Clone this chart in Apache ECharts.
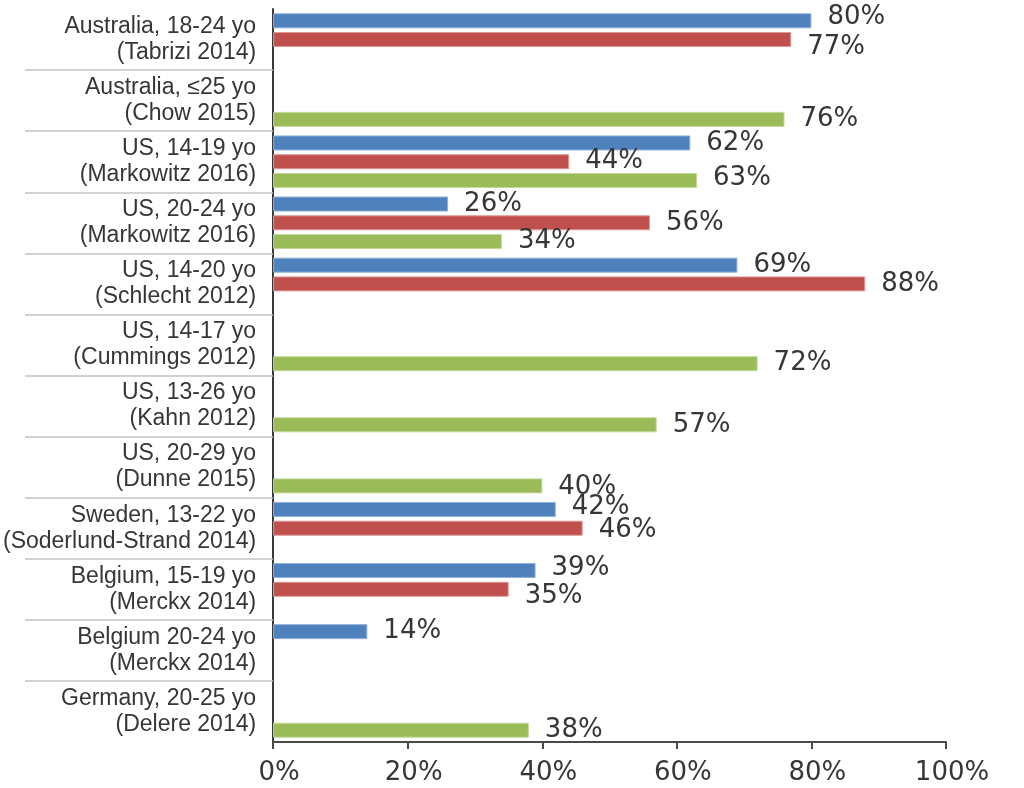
<!DOCTYPE html>
<html>
<head>
<meta charset="utf-8">
<script src="https://cdn.jsdelivr.net/npm/echarts@6/dist/echarts.min.js"></script>
<style>
html,body{margin:0;padding:0;background:#fff;}
#chart{width:1024px;height:788px;}
</style>
</head>
<body>
<div id="chart"></div>
<script>
const categories = [
  "Australia, 18-24 yo\n(Tabrizi 2014)",
  "Australia, ≤25 yo\n(Chow 2015)",
  "US, 14-19 yo\n(Markowitz 2016)",
  "US, 20-24 yo\n(Markowitz 2016)",
  "US, 14-20 yo\n(Schlecht 2012)",
  "US, 14-17 yo\n(Cummings 2012)",
  "US, 13-26 yo\n(Kahn 2012)",
  "US, 20-29 yo\n(Dunne 2015)",
  "Sweden, 13-22 yo\n(Soderlund-Strand 2014)",
  "Belgium, 15-19 yo\n(Merckx 2014)",
  "Belgium 20-24 yo\n(Merckx 2014)",
  "Germany, 20-25 yo\n(Delere 2014)"
];
const blueValues  = [80, null, 62, 26, 69, null, null, null, 42, 39, 14, null];
const redValues   = [77, null, 44, 56, 88, null, null, null, 46, 35, null, null];
const greenValues = [null, 76, 63, 34, null, 72, 57, 40, null, null, null, 38];
const xTicks = [0, 20, 40, 60, 80, 100];

const seriesNames = ["Series 1", "Series 2", "Series 3"];
const seriesColors = ["#4F81BD", "#C0504D", "#9BBB59"];
const seriesBorders = ["#8eb0da", "#de9896", "#c3d89a"];
const valueSets = [blueValues, redValues, greenValues];
// vertical label nudges (px) per series, keyed by category index (style only)
const labelNudges = [
  {0: -4, 8: -2, 9: -2},
  {0: 8, 8: 2, 9: 7},
  {2: -2, 7: 1}
];

const numFont = "DejaVu Sans";
const textColor = "#363636";

const chart = echarts.init(document.getElementById('chart'), null, {renderer: 'canvas'});

const series = valueSets.map((vals, i) => ({
  name: seriesNames[i],
  type: 'bar',
  xAxisIndex: 0,
  yAxisIndex: 0,
  data: vals.map((v, j) => ({
    value: v,
    label: {offset: [0, labelNudges[i][j] || 0]}
  })),
  barWidth: 15,
  barGap: '25%',
  itemStyle: {color: seriesColors[i], borderColor: seriesBorders[i], borderWidth: 1},
  label: {
    show: true,
    position: 'right',
    distance: 16,
    fontFamily: numFont,
    fontSize: 26,
    color: textColor,
    formatter: p => (p.value == null ? '' : p.value + '%')
  },
  animation: false
}));

const option = {
  animation: false,
  backgroundColor: '#ffffff',
  grid: [
    {left: 273, right: 78, top: 9, bottom: 46, containLabel: false},
    {left: 273, right: 78, top: 70.1, bottom: 107.1, containLabel: false}
  ],
  xAxis: [
    {
      type: 'value',
      gridIndex: 0,
      min: xTicks[0],
      max: xTicks[xTicks.length - 1],
      interval: xTicks[1] - xTicks[0],
      axisLine: {show: true, lineStyle: {color: '#4a4a4a', width: 2}},
      axisTick: {show: true, length: 7, lineStyle: {color: '#4a4a4a', width: 2}},
      splitLine: {show: false},
      axisLabel: {
        margin: 18,
        fontFamily: numFont,
        fontSize: 26,
        color: textColor,
        padding: [0, 0, 0, 12],
        formatter: '{value}%'
      }
    },
    {
      type: 'value',
      gridIndex: 1,
      show: false,
      min: 0,
      max: 1
    }
  ],
  yAxis: [
    {
      type: 'category',
      gridIndex: 0,
      inverse: true,
      data: categories,
      axisLine: {show: true, lineStyle: {color: '#3a3a3a', width: 2}},
      axisTick: {show: false},
      splitLine: {show: false},
      axisLabel: {
        margin: 17,
        fontFamily: 'Liberation Sans',
        fontSize: 23,
        lineHeight: 26,
        color: textColor,
        align: 'right'
      }
    },
    {
      type: 'category',
      gridIndex: 1,
      inverse: true,
      data: categories.slice(1, categories.length - 1),
      axisLine: {show: false},
      axisLabel: {show: false},
      splitLine: {show: false},
      axisTick: {show: true, length: 248, lineStyle: {color: '#c4c4c4', width: 1.5}}
    }
  ],
  series: series
};

chart.setOption(option);
</script>
</body>
</html>
